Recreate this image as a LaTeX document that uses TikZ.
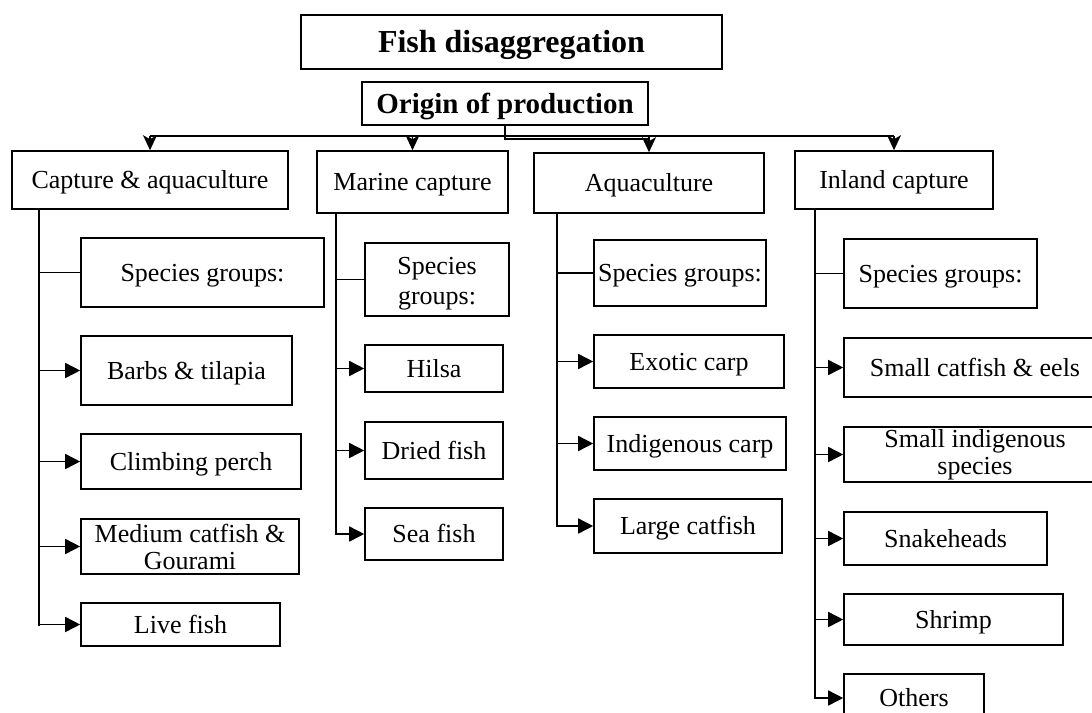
\documentclass[tikz,border=0pt]{standalone}
\usepackage{fontspec}
\setmainfont{Liberation Serif}
\usetikzlibrary{arrows.meta,positioning,calc}

\begin{document}
\begin{tikzpicture}[x=1pt, y=-1pt,
  mbox/.style={rectangle, draw, line width=1.6pt, inner sep=0pt, align=center,
               font=\fontsize{26}{27}\selectfont},
  hbox/.style={mbox, text height=20.5pt, text depth=3.5pt},
  tbox/.style={hbox, font=\fontsize{32}{34}\selectfont\bfseries, text height=24.5pt, text depth=4.5pt},
  obox/.style={hbox, font=\fontsize{29}{31}\selectfont\bfseries, text height=23pt, text depth=4pt},
  trunk/.style={line width=2pt, line cap=rect},
  link/.style={line width=1.6pt},
  arr/.style={link, -{Triangle[length=15pt, width=15pt]}},
  darr/.style={line width=1.5pt, -{Stealth[length=15pt, width=14pt, inset=4pt]}}
]
\useasboundingbox (0,0) rectangle (1092,712);
\clip (0,0) rectangle (1092,712);

% Top nodes
\node[tbox, minimum width=421, minimum height=54] (title)  at (511.5,42)  {Fish disaggregation};
\node[obox, minimum width=286, minimum height=43] (origin) at (505,103.5) {Origin of production};

% Origin nodes
\node[hbox, minimum width=276, minimum height=58] (cap) at (150,180)   {Capture \& aquaculture};
\node[hbox, minimum width=191, minimum height=62] (mar) at (412.5,182) {Marine capture};
\node[hbox, minimum width=230, minimum height=60] (aqu) at (649,183)   {Aquaculture};
\node[hbox, minimum width=198, minimum height=58] (inl) at (894,180)   {Inland capture};

% Capture & aquaculture groups
\node[hbox, minimum width=243, minimum height=69] (capsg)  at (202.5,272.5) {Species groups:};
\node[hbox, minimum width=211, minimum height=69] (barbs)  at (186.5,370.5) {Barbs \& tilapia};
\node[hbox, minimum width=220, minimum height=55] (climb)  at (191,461.5)   {Climbing perch};
\node[mbox, minimum width=218, minimum height=55] (medium) at (190,546.5)   {Medium catfish \&\\Gourami};
\node[hbox, minimum width=199, minimum height=43] (live)   at (180.5,624.5) {Live fish};

% Marine capture groups
\node[mbox, minimum width=144, minimum height=73, font=\fontsize{26}{30}\selectfont,
      text height=52pt, text depth=2pt] (marsg) at (437,279.5) {Species\\groups:};
\node[hbox, minimum width=138, minimum height=47] (hilsa) at (434,368.5) {Hilsa};
\node[hbox, minimum width=138, minimum height=57] (dried) at (434,450.5) {Dried fish};
\node[hbox, minimum width=138, minimum height=52] (sea)   at (434,534)   {Sea fish};

% Aquaculture groups
\node[hbox, minimum width=172, minimum height=66] (aqusg)  at (680,273)   {Species groups:};
\node[hbox, minimum width=190, minimum height=53] (exotic) at (689,361.5) {Exotic carp};
\node[hbox, minimum width=192, minimum height=53] (indig)  at (690,443.5) {Indigenous carp};
\node[hbox, minimum width=188, minimum height=54] (large)  at (688,526)   {Large catfish};

% Inland capture groups
\node[hbox, minimum width=193, minimum height=69] (inlsg)    at (940.5,273.5) {Species groups:};
\node[hbox, minimum width=262, minimum height=59] (smallcat) at (975,367.5)   {Small catfish \& eels};
\node[mbox, minimum width=262, minimum height=55] (sis)      at (975,454.5)   {Small indigenous\\species};
\node[hbox, minimum width=203, minimum height=53] (snake)    at (945.5,538.5) {Snakeheads};
\node[hbox, minimum width=219, minimum height=51] (shrimp)   at (953.5,619.5) {Shrimp};
\node[hbox, minimum width=140, minimum height=48] (others)   at (914,698)     {Others};

% Top connectors
\coordinate (bar) at (0,136);
\draw[link] (cap.north |- bar) -- (inl.north |- bar);
\draw[trunk] (origin.south) |- (aqu.north |- 0,138.5);
\foreach \n in {cap,mar,aqu,inl}
  \draw[darr] (\n.north |- bar) -- (\n.north);

% Column trunks
\coordinate (capx) at (39,209);
\coordinate (marx) at (336,213);
\coordinate (aqux) at (557,213);
\coordinate (inlx) at (815,209);
\draw[trunk] (capx) -- (capx |- live.west);
\draw[trunk] (marx) -- (marx |- sea.west);
\draw[trunk] (aqux) -- (aqux |- large.west);
\draw[trunk] (inlx) -- (inlx |- others.west);

% Branches
\draw[link] (capx |- capsg.west) -- (capsg.west);
\draw[link] (marx |- marsg.west) -- (marsg.west);
\draw[link] (aqux |- aqusg.west) -- (aqusg.west);
\draw[link] (inlx |- inlsg.west) -- (inlsg.west);
\foreach \n in {barbs,climb,medium,live}
  \draw[arr] (capx |- \n.west) -- (\n.west);
\foreach \n in {hilsa,dried,sea}
  \draw[arr] (marx |- \n.west) -- (\n.west);
\foreach \n in {exotic,indig,large}
  \draw[arr] (aqux |- \n.west) -- (\n.west);
\foreach \n in {smallcat,sis,snake,shrimp,others}
  \draw[arr] (inlx |- \n.west) -- (\n.west);
\end{tikzpicture}
\end{document}
